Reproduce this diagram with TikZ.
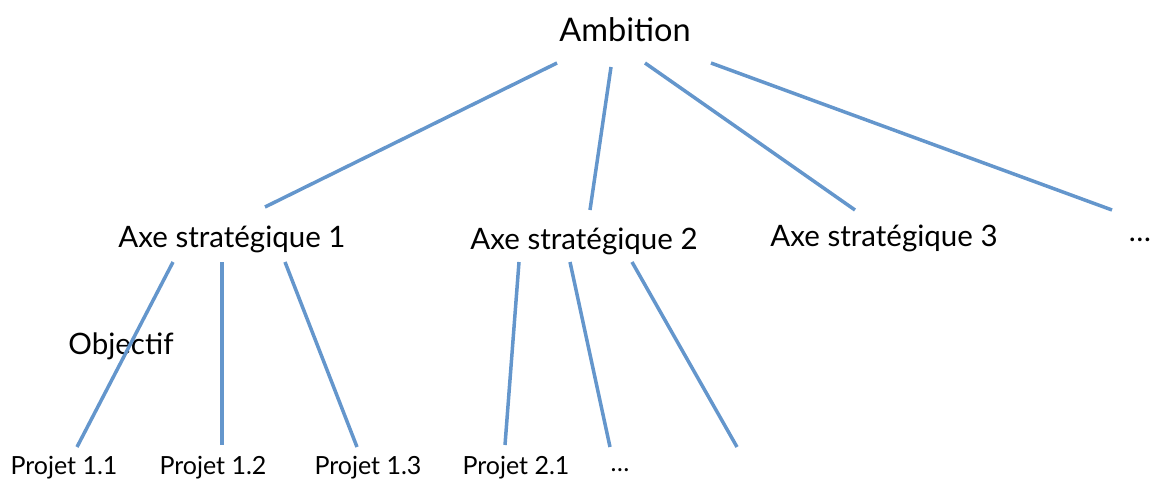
\documentclass[tikz,border=0pt]{standalone}
\usepackage{fontspec}
\setmainfont{Lato}
\definecolor{linkblue}{RGB}{100,150,204}
\begin{document}
\begin{tikzpicture}[x=1pt,y=-1pt,
  link/.style={draw=linkblue,line width=3.5pt},
  big/.style={font=\fontsize{32.5}{35}\selectfont,inner sep=0pt},
  mid/.style={font=\fontsize{29.5}{32}\selectfont,inner sep=0pt},
  small/.style={font=\fontsize{25}{28}\selectfont,inner sep=0pt}]
\useasboundingbox (0,0) rectangle (1156,482);
\node[big] (amb) at (625,30) {Ambition};
\node[mid] (ax1) at (232,239) {Axe stratégique 1};
\node[mid] (ax2) at (584,241) {Axe stratégique 2};
\node[mid] (ax3) at (884,238) {Axe stratégique 3};
\node[mid] (axd) at (1140,240) {\dots};
\node[mid] (obj) at (121,346) {Objectif};
\node[small] (p11) at (64,468) {Projet 1.1};
\node[small] (p12) at (213,468) {Projet 1.2};
\node[small] (p13) at (368,468) {Projet 1.3};
\node[small] (p21) at (516,468) {Projet 2.1};
\node[small] (pd) at (620,470) {\dots};
% line ends
\coordinate (a1) at (557,63); \coordinate (b1) at (265,207);
\coordinate (a2) at (611,67); \coordinate (b2) at (590,210);
\coordinate (a3) at (645,63); \coordinate (b3) at (855,210);
\coordinate (a4) at (711,63); \coordinate (b4) at (1112,210);
\coordinate (c1) at (173,262); \coordinate (d1) at (77,447);
\coordinate (c2) at (222,262); \coordinate (d2) at (222,445);
\coordinate (c3) at (285,262); \coordinate (d3) at (357,447);
\coordinate (c4) at (519,262); \coordinate (d4) at (505,445);
\coordinate (c5) at (570,262); \coordinate (d5) at (610,447);
\coordinate (c6) at (632,262); \coordinate (d6) at (737,447);
\foreach \i in {1,...,4} {\draw[link] (a\i) -- (b\i);}
\foreach \i in {1,...,6} {\draw[link] (c\i) -- (d\i);}
\end{tikzpicture}
\end{document}
